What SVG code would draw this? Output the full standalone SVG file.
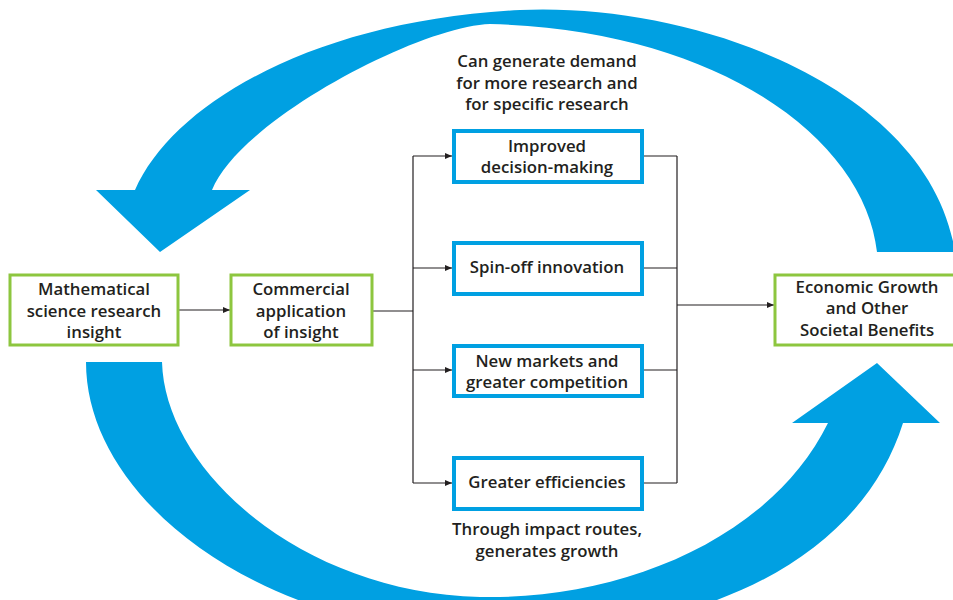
<svg xmlns="http://www.w3.org/2000/svg" width="953" height="600" viewBox="0 0 953 600">
<defs>
<marker id="ah" markerWidth="7" markerHeight="6" refX="7" refY="3" orient="auto" markerUnits="userSpaceOnUse">
<path d="M0,0 L7,3 L0,6 Z" fill="#231f20"/>
</marker>
<style>
.big{fill:#00a0e2;stroke:none}
.gbox{fill:#fff;stroke:#8dc63f;stroke-width:3}
.bbox{fill:#fff;stroke:#00a0e2;stroke-width:4}
.t{font-family:"Open Sans","Liberation Sans",sans-serif;font-weight:600;font-size:16.8px;fill:#231f20;text-anchor:middle}
.c{fill:none;stroke:#231f20;stroke-width:1.2}
</style>
</defs>
<rect width="953" height="600" fill="#fff"/>
<g id="loops">
<path class="big" d="M135,190 C175,100 320,20 520,10 C700,2 930,90 955,252 L877,252 C865,140 720,30 490,24 C420,26 240,120 212,190 L250,190 L160,252 L96,190 Z"/>
<path class="big" d="M86,362 L162,362 C165,470 300,592 480,597 C620,600 770,540 828,423 L792,423 L877,363 L940,423 L903,423 C860,560 700,640 480,635 C260,630 86,500 86,362 Z"/>
</g>
<g id="connectors">
<line class="c" x1="178" y1="310" x2="230" y2="310" marker-end="url(#ah)"/>
<line class="c" x1="372" y1="311" x2="413" y2="311"/>
<line class="c" x1="413" y1="156" x2="413" y2="483"/>
<line class="c" x1="413" y1="156" x2="452" y2="156" marker-end="url(#ah)"/>
<line class="c" x1="413" y1="268" x2="452" y2="268" marker-end="url(#ah)"/>
<line class="c" x1="413" y1="370" x2="452" y2="370" marker-end="url(#ah)"/>
<line class="c" x1="413" y1="483" x2="452" y2="483" marker-end="url(#ah)"/>
<line class="c" x1="643" y1="156" x2="677" y2="156"/>
<line class="c" x1="643" y1="268" x2="677" y2="268"/>
<line class="c" x1="643" y1="370" x2="677" y2="370"/>
<line class="c" x1="643" y1="483" x2="677" y2="483"/>
<line class="c" x1="677" y1="156" x2="677" y2="483"/>
<line class="c" x1="677" y1="305" x2="774" y2="305" marker-end="url(#ah)"/>
</g>
<g id="math">
<rect class="gbox" x="10" y="275" width="168" height="70"/>
<text class="t" x="94" y="295">Mathematical</text>
<text class="t" x="94" y="317">science research</text>
<text class="t" x="94" y="338">insight</text>
</g>
<g id="commercial">
<rect class="gbox" x="231" y="275" width="141" height="70"/>
<text class="t" x="301" y="295">Commercial</text>
<text class="t" x="301" y="317">application</text>
<text class="t" x="301" y="338">of insight</text>
</g>
<g id="economic">
<rect class="gbox" x="775" y="275" width="185" height="70"/>
<text class="t" x="867" y="293">Economic Growth</text>
<text class="t" x="867" y="314">and Other</text>
<text class="t" x="867" y="336">Societal Benefits</text>
</g>
<g id="improved">
<rect class="bbox" x="454" y="131" width="188" height="51"/>
<text class="t" x="547" y="152">Improved</text>
<text class="t" x="547" y="173">decision-making</text>
</g>
<g id="spinoff">
<rect class="bbox" x="454" y="243" width="188" height="51"/>
<text class="t" x="547" y="273">Spin-off innovation</text>
</g>
<g id="markets">
<rect class="bbox" x="454" y="346" width="188" height="50"/>
<text class="t" x="547" y="367">New markets and</text>
<text class="t" x="547" y="388">greater competition</text>
</g>
<g id="efficiencies">
<rect class="bbox" x="454" y="458" width="188" height="51"/>
<text class="t" x="547" y="488">Greater efficiencies</text>
</g>
<g id="labels">
<text class="t" x="547" y="67">Can generate demand</text>
<text class="t" x="547" y="89">for more research and</text>
<text class="t" x="547" y="110">for specific research</text>
<text class="t" x="547" y="535">Through impact routes,</text>
<text class="t" x="547" y="557">generates growth</text>
</g>
</svg>
